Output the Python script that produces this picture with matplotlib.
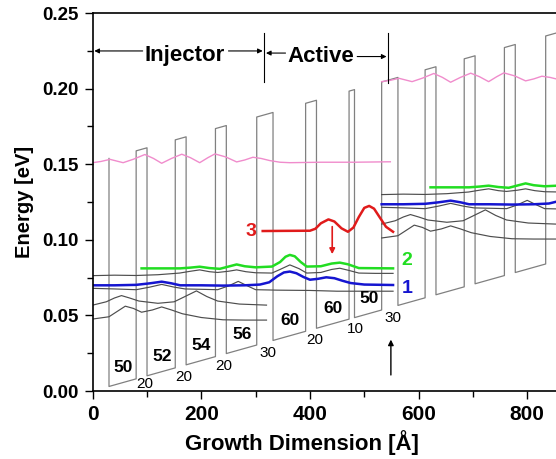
import numpy as np
import matplotlib.pyplot as plt

plt.rcParams['font.family'] = ['Liberation Sans', 'DejaVu Sans']

# layer sequence of one period (Angstrom)
wells = [50, 52, 54, 56, 60, 60, 50]
barriers = [20, 20, 20, 30, 20, 10, 30]
x_start = 30
e_start = 0.003       # band edge at start [eV]
band_offset = 0.1508  # barrier height [eV]
drop = 0.0536         # energy drop per period [eV]

# wavefunction levels of the first period (Angstrom, eV)
pink_x = [0, 15, 32, 56, 75, 96, 112, 127, 145, 164, 180, 197, 212, 225, 245, 265,
          280, 295, 310, 326, 345, 363, 420, 480, 548]
pink_e = [0.1510, 0.1518, 0.1532, 0.1510, 0.1533, 0.1564, 0.1538, 0.1506, 0.1538,
          0.1566, 0.1543, 0.1510, 0.1543, 0.1568, 0.1548, 0.1515, 0.1528, 0.1546,
          0.1538, 0.1524, 0.1513, 0.1510, 0.1513, 0.1513, 0.1516]

red_x = [313, 350, 400, 410, 420, 434, 445, 458, 470, 480, 490, 500, 509, 518, 528, 540, 553]
red_e = [0.1058, 0.1059, 0.1060, 0.1073, 0.1109, 0.1135, 0.1121, 0.1076, 0.1053,
         0.1081, 0.1151, 0.1211, 0.1224, 0.1206, 0.1151, 0.1086, 0.1053]

green_x = [90, 130, 161, 180, 197, 215, 234, 250, 265, 280, 300, 330, 345, 355, 363,
           372, 383, 394, 420, 440, 455, 470, 490, 553]
green_e = [0.0811, 0.0811, 0.0811, 0.0816, 0.0822, 0.0813, 0.0808, 0.0823, 0.0837,
           0.0825, 0.0818, 0.0823, 0.0853, 0.0888, 0.0900, 0.0891, 0.0853, 0.0823,
           0.0825, 0.0843, 0.0849, 0.0838, 0.0813, 0.0811]

blue_x = [0, 40, 80, 105, 127, 145, 161, 200, 240, 280, 308, 325, 340, 352, 363, 375,
          388, 400, 415, 430, 445, 460, 475, 500, 553]
blue_e = [0.0699, 0.0699, 0.0702, 0.0712, 0.0723, 0.0712, 0.0699, 0.0699, 0.0697,
          0.0699, 0.0704, 0.0719, 0.0759, 0.0784, 0.0790, 0.0779, 0.0754, 0.0736,
          0.0742, 0.0752, 0.0746, 0.0729, 0.0714, 0.0704, 0.0701]

gray1_x = [0, 40, 80, 120, 160, 180, 197, 215, 230, 250, 265, 282, 300, 330, 345, 363,
           380, 394, 420, 440, 455, 470, 490, 520, 553]
gray1_e = [0.0763, 0.0766, 0.0764, 0.0769, 0.0780, 0.0792, 0.0801, 0.0789, 0.0784,
           0.0792, 0.0801, 0.0789, 0.0782, 0.0780, 0.0804, 0.0834, 0.0809, 0.0780,
           0.0784, 0.0804, 0.0812, 0.0799, 0.0780, 0.0778, 0.0778]

gray2_x = [0, 40, 80, 105, 127, 150, 170, 230, 250, 268, 285, 300, 340, 400, 450, 500, 553]
gray2_e = [0.0679, 0.0675, 0.0670, 0.0687, 0.0705, 0.0687, 0.0675, 0.0670, 0.0695,
           0.0725, 0.0695, 0.0670, 0.0667, 0.0665, 0.0660, 0.0660, 0.0660]

gray3_x = [0, 25, 40, 53, 68, 85, 120, 150, 170, 191, 210, 230, 270, 320]
gray3_e = [0.0568, 0.0590, 0.0615, 0.0631, 0.0615, 0.0595, 0.0580, 0.0590, 0.0625,
           0.0662, 0.0625, 0.0595, 0.0575, 0.0568]

gray4_x = [0, 30, 45, 60, 75, 90, 110, 127, 145, 165, 200, 240, 280, 320]
gray4_e = [0.0476, 0.0491, 0.0526, 0.0561, 0.0546, 0.0521, 0.0536, 0.0556, 0.0536,
           0.0511, 0.0486, 0.0471, 0.0469, 0.0469]

period = sum(wells) + sum(barriers)
slope = drop / period


def band(x):
    return e_start + slope * (x - x_start)


# conduction band profile, two periods
prof_x = [x_start, x_start]
prof_e = [band(x_start) + band_offset, band(x_start)]
x = x_start
for p in range(2):
    for w, b in zip(wells, barriers):
        x2 = x + w
        prof_x += [x2, x2]
        prof_e += [band(x2), band(x2) + band_offset]
        x3 = x2 + b
        prof_x += [x3, x3]
        prof_e += [band(x3) + band_offset, band(x3)]
        x = x3

fig = plt.figure(figsize=(5.56, 4.59), dpi=100)
ax = fig.add_axes([92.7 / 556, 68 / 459, 1 - 92.7 / 556, 378 / 459])

ax.plot(prof_x, prof_e, color='#808080', lw=0.9)

# states: first period and the copy one period downstream
grays = [(gray1_x, gray1_e), (gray2_x, gray2_e), (gray3_x, gray3_e), (gray4_x, gray4_e)]
for k in range(2):
    dx, de = k * period, k * drop
    for gx, ge in grays:
        ax.plot(np.array(gx) + dx, np.array(ge) + de, color='#4d4d4d', lw=0.85)
    ax.plot(np.array(pink_x) + dx, np.array(pink_e) + de, color='#f08ccc', lw=1.0)
    ax.plot(np.array(green_x) + dx, np.array(green_e) + de, color='#22dd22', lw=1.8)
    ax.plot(np.array(blue_x) + dx, np.array(blue_e) + de, color='#1515d0', lw=1.8)
ax.plot(red_x, red_e, color='#e01b1b', lw=1.8)

# layer thickness labels
x = x_start
for w, b in zip(wells, barriers):
    xc = x + w / 2
    ax.text(xc + 1, band(xc) + 0.010, str(w), fontsize=12.5, fontweight='bold',
            ha='center', va='center')
    xb = x + w + b / 2 + 6
    ax.text(xb, max(band(xb) - 0.0075, 0.0045), str(b), fontsize=11,
            ha='center', va='center')
    x += w + b

# state labels
ax.text(291, 0.1058, '3', color='#e01b1b', fontsize=14, fontweight='bold',
        ha='center', va='center')
ax.text(579, 0.0866, '2', color='#22dd22', fontsize=14, fontweight='bold',
        ha='center', va='center')
ax.text(579, 0.0681, '1', color='#1515d0', fontsize=14, fontweight='bold',
        ha='center', va='center')

# transition arrow and marker arrow
ax.annotate('', xy=(441, 0.0905), xytext=(441, 0.1087),
            arrowprops=dict(arrowstyle='-|>', color='#e01b1b', lw=1.2,
                            mutation_scale=8, shrinkA=0, shrinkB=0))
ax.annotate('', xy=(549, 0.0340), xytext=(549, 0.0106),
            arrowprops=dict(arrowstyle='-|>', color='black', lw=1.0,
                            mutation_scale=8, shrinkA=0, shrinkB=0))

# Injector / Active region markers
ax.text(170, 0.2222, 'Injector', fontsize=16, fontweight='bold', ha='center', va='center')
ax.text(420, 0.2210, 'Active', fontsize=16, fontweight='bold', ha='center', va='center')
arrow_kw = dict(arrowstyle='-|>', color='black', lw=0.8, mutation_scale=7,
                shrinkA=0, shrinkB=0)
ax.annotate('', xy=(3, 0.2249), xytext=(92, 0.2249), arrowprops=arrow_kw)
ax.annotate('', xy=(313, 0.2249), xytext=(250, 0.2249), arrowprops=arrow_kw)
ax.annotate('', xy=(319, 0.2235), xytext=(355, 0.2235), arrowprops=arrow_kw)
ax.annotate('', xy=(541, 0.2212), xytext=(487, 0.2212), arrowprops=arrow_kw)
ax.plot([316, 316], [0.2044, 0.2368], color='black', lw=0.8)
ax.plot([544, 544], [0.2040, 0.2368], color='black', lw=0.8)

ax.set_xlim(0, 853)
ax.set_ylim(0, 0.25)
ax.set_xticks([0, 200, 400, 600, 800])
ax.set_xticks([100, 300, 500, 700], minor=True)
ax.set_yticks(np.arange(0, 0.26, 0.05))
ax.set_yticks(np.arange(0.025, 0.25, 0.05), minor=True)
ax.set_yticklabels(['%.2f' % v for v in np.arange(0, 0.26, 0.05)])
ax.tick_params(which='major', direction='out', length=6, width=1.0)
ax.tick_params(which='minor', direction='out', length=4, width=1.0)
ax.tick_params(axis='x', which='major', labelsize=15, pad=4)
ax.tick_params(axis='y', which='major', labelsize=13.5, pad=4)
for lab in ax.get_xticklabels() + ax.get_yticklabels():
    lab.set_fontweight('bold')
ax.spines['right'].set_visible(False)
for s in ['left', 'bottom', 'top']:
    ax.spines[s].set_linewidth(1.2)

ax.set_xlabel('Growth Dimension [Å]', fontsize=16, fontweight='bold')
ax.xaxis.set_label_coords(0.452, -0.103)
ax.set_ylabel('Energy [eV]', fontsize=14.5, fontweight='bold', labelpad=6)

fig.savefig('out.png', dpi=100)
